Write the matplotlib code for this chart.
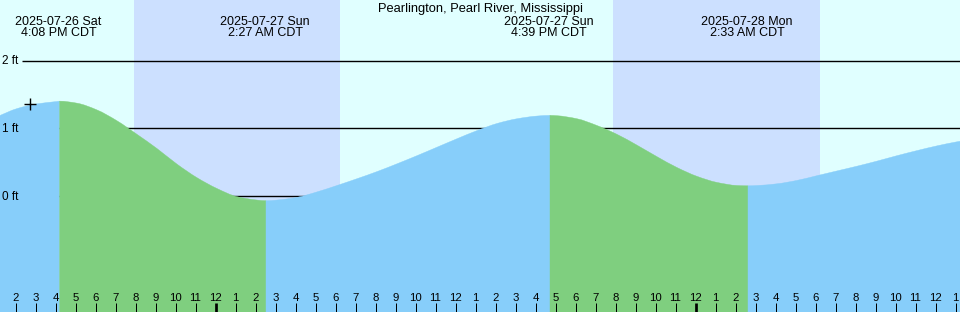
import matplotlib
matplotlib.use("Agg")
import matplotlib.pyplot as plt
import matplotlib.transforms as mtransforms
from matplotlib.path import Path
from matplotlib.patches import PathPatch
import numpy as np

plt.rcParams['font.family'] = ['Liberation Sans', 'DejaVu Sans']

# ---------------- data ----------------
title = "Pearlington, Pearl River, Mississippi"

# hours counted from 2025-07-26 00:00 CDT
hourly_times = list(range(13, 63))
hourly_heights = [1.17, 1.29, 1.36, 1.395, 1.37, 1.27, 1.11, 0.91, 0.70, 0.47,
                  0.27, 0.11, -0.01, -0.06, -0.06, -0.02, 0.06, 0.155, 0.255, 0.36,
                  0.475, 0.595, 0.72, 0.845, 0.965, 1.07, 1.14, 1.18, 1.185, 1.14,
                  1.04, 0.91, 0.75, 0.58, 0.42, 0.29, 0.20, 0.155, 0.155, 0.18,
                  0.23, 0.30, 0.37, 0.44, 0.515, 0.595, 0.67, 0.74, 0.80, 0.85]

event_times = [16 + 8/60, 26 + 27/60, 40 + 39/60, 50 + 33/60]
event_heights = [1.40, -0.07, 1.19, 0.15]
event_kind = ["high", "low", "high", "low"]
event_dates = ["2025-07-26 Sat", "2025-07-27 Sun", "2025-07-27 Sun", "2025-07-28 Mon"]
event_clock = ["4:08 PM CDT", "2:27 AM CDT", "4:39 PM CDT", "2:33 AM CDT"]

sunsets = [19 + 51/60, 43 + 48/60]
sunrises = [30 + 9/60, 54 + 9/60]

now_time = 14 + 39/60
now_height = 1.36

level_lines = [2, 1, 0]
level_labels = ["2 ft", "1 ft", "0 ft"]

tick_hours = list(range(14, 62))
tick_labels = ["2", "3", "4", "5", "6", "7", "8", "9", "10", "11", "12",
               "1", "2", "3", "4", "5", "6", "7", "8", "9", "10", "11", "12",
               "1", "2", "3", "4", "5", "6", "7", "8", "9", "10", "11", "12",
               "1", "2", "3", "4", "5", "6", "7", "8", "9", "10", "11", "12", "1"]
midnight_hours = [24, 48]

# ---------------- style ----------------
W, H = 960, 312
BG = "#e0ffff"
NIGHT = "#cce0ff"
BLUE = "#87cefa"
GREEN = "#7fcf7f"
X0 = 13.15
PX_PER_H = 20.0
Y_TOP = 196 / 67.75
Y_BOT = -116 / 67.75
TICK_SHIFT = -0.075

fig = plt.figure(figsize=(W / 100, H / 100), dpi=100)
ax = fig.add_axes([0, 0, 1, 1])
ax.set_xlim(X0, X0 + W / PX_PER_H)
ax.set_ylim(Y_BOT, Y_TOP)
ax.axis("off")
ax.add_patch(plt.Rectangle((0, 0), 1, 1, transform=ax.transAxes, color=BG, zorder=0))

for s, r in zip(sunsets, sunrises):
    ax.axvspan(s, r, color=NIGHT, lw=0, zorder=1)

# level lines (behind water)
x_line_start = X0 + 22 / PX_PER_H
for lv in level_lines:
    ax.plot([x_line_start, X0 + W / PX_PER_H], [lv, lv], color="black", lw=1.0,
            solid_capstyle="butt", zorder=2)

# tide curve: merge hourly readings and extremes
t = np.array(hourly_times + event_times, dtype=float)
h = np.array(hourly_heights + event_heights, dtype=float)
order = np.argsort(t)
t, h = t[order], h[order]

# monotone (Fritsch-Carlson) tangents for smooth Bezier rendering
d = np.diff(h) / np.diff(t)
m = np.zeros_like(h)
m[0], m[-1] = d[0], d[-1]
for i in range(1, len(h) - 1):
    if d[i - 1] * d[i] <= 0:
        m[i] = 0.0
    else:
        w1 = 2 * (t[i + 1] - t[i]) + (t[i] - t[i - 1])
        w2 = (t[i + 1] - t[i]) + 2 * (t[i] - t[i - 1])
        m[i] = (w1 + w2) / (w1 / d[i - 1] + w2 / d[i])


def region_patch(i0, i1, color):
    verts = [(t[i0], Y_BOT - 1), (t[i0], h[i0])]
    codes = [Path.MOVETO, Path.LINETO]
    for i in range(i0, i1):
        dt = t[i + 1] - t[i]
        verts += [(t[i] + dt / 3, h[i] + m[i] * dt / 3),
                  (t[i + 1] - dt / 3, h[i + 1] - m[i + 1] * dt / 3),
                  (t[i + 1], h[i + 1])]
        codes += [Path.CURVE4] * 3
    verts += [(t[i1], Y_BOT - 1), (t[i0], Y_BOT - 1)]
    codes += [Path.LINETO, Path.CLOSEPOLY]
    ax.add_patch(PathPatch(Path(verts, codes), facecolor=color, edgecolor=color,
                           lw=0.3, zorder=3))


ev_idx = [int(np.argmin(np.abs(t - et))) for et in event_times]
bounds = [0] + ev_idx + [len(t) - 1]
for k in range(len(bounds) - 1):
    i0, i1 = bounds[k], bounds[k + 1]
    if k >= 1 and event_kind[k - 1] == "high":
        col = GREEN
    else:
        col = BLUE
    region_patch(i0, i1, col)

# current-time marker
ax.plot([now_time], [now_height], marker="+", color="black", markersize=9,
        markeredgewidth=1.0, zorder=5)

# level labels
for lv, lab in zip(level_lines, level_labels):
    ax.text(X0 + 2.5 / PX_PER_H, lv - 3.7 / 67.75, lab, fontsize=8.5,
            ha="left", va="baseline", zorder=6)

# hour ticks
px = 1 / 67.75
for hr, lab in zip(tick_hours, tick_labels):
    xt = hr + TICK_SHIFT
    lw = 2.7 if hr in midnight_hours else 1.0
    ax.plot([xt, xt], [Y_BOT, Y_BOT + 9.5 * px], color="black", lw=lw * 0.72,
            solid_capstyle="butt", zorder=6)
    ax.text(xt, Y_BOT + 11.3 * px, lab, fontsize=8.2, ha="center", va="baseline", zorder=6)

# event labels
trans = mtransforms.blended_transform_factory(ax.transData, ax.transAxes)
for et, dd, c in zip(event_times, event_dates, event_clock):
    ax.text(et - 0.05, 1 - 25 / H, dd, fontsize=9, ha="center", va="baseline",
            transform=trans, zorder=6)
    ax.text(et - 0.05, 1 - 36 / H, c, fontsize=9, ha="center", va="baseline",
            transform=trans, zorder=6)

fig.text(480 / W, 1 - 11.7 / H, title, fontsize=9.3, ha="center", va="baseline")

fig.savefig("out.png", dpi=100)
